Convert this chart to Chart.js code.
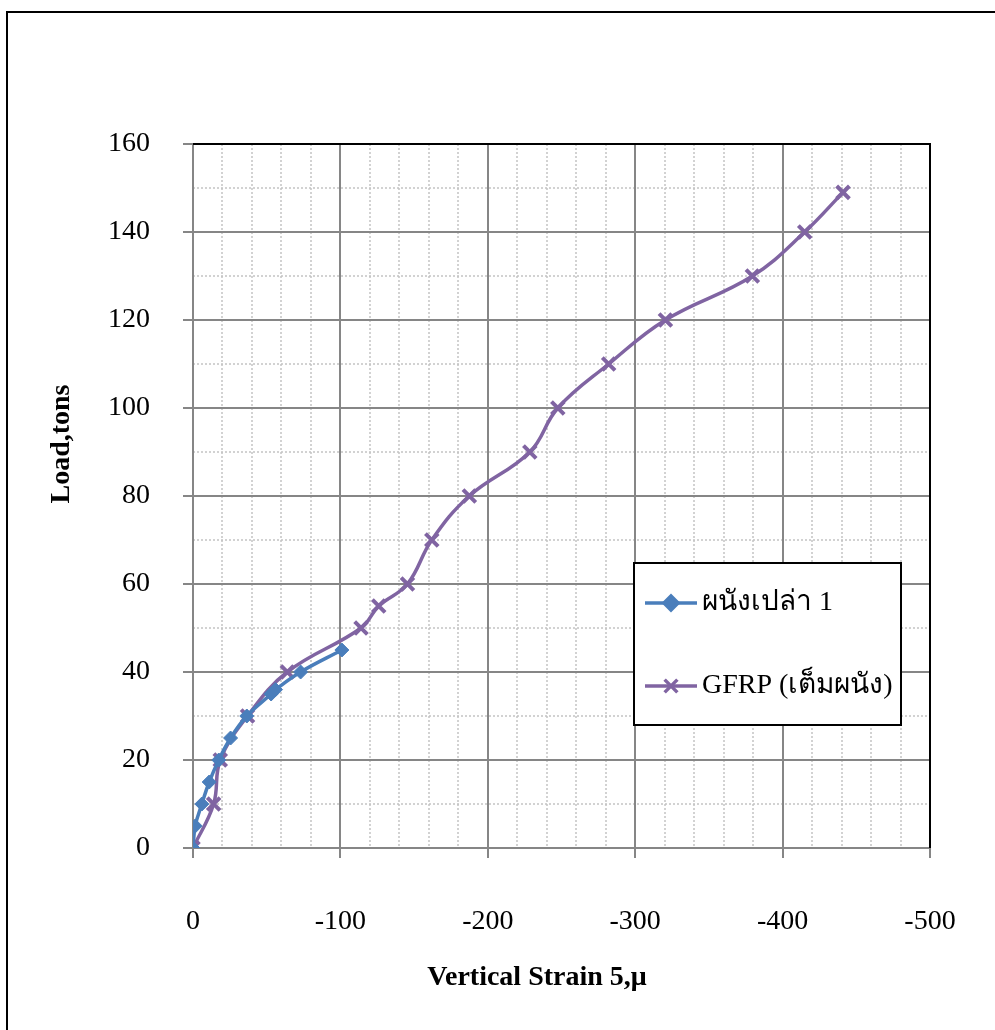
<!DOCTYPE html>
<html>
<head>
<meta charset="utf-8">
<script src="https://cdn.jsdelivr.net/npm/chart.js@4.4.1/dist/chart.umd.min.js"></script>
<style>
  html, body { margin: 0; padding: 0; background: #fff; }
  canvas { display: block; }
</style>
</head>
<body>
<canvas id="myChart" width="995" height="1030"></canvas>
<script>

// ผนังเปล่า 1
const wallStrain = [0, -1.5, -6, -11, -17.5, -25.5, -36.5, -53, -56, -73, -101]
const wallLoad = [0, 5, 10, 15, 20, 25, 30, 35, 36, 40, 45]

// GFRP (เต็มผนัง)
const gfrpStrain = [0, -14, -18.5, -37, -64, -114, -126, -145.5, -162, -187.5, -228.5, -247.5, -282, -320.5, -379.5, -415, -441]
const gfrpLoad = [0, 10, 20, 30, 40, 50, 55, 60, 70, 80, 90, 100, 110, 120, 130, 140, 149]

const seriesNames = ['ผนังเปล่า 1', 'GFRP (เต็มผนัง)']
const xTicks = [0, -100, -200, -300, -400, -500]
const yTicks = [0, 20, 40, 60, 80, 100, 120, 140, 160]

const xTitle = 'Vertical Strain 5,μ'
const yTitle = 'Load,tons'

const blueColor = '#4a7ebb'
const purpleColor = '#8064a2'
const gridColor = '#868686'
const serif = '"Liberation Serif", "Times New Roman", serif'

const toPoints = (xs, ys) => xs.map((x, i) => ({ x: x, y: ys[i] }))

// minor dotted grid + frame + titles + legend
const decorations = {
    id: 'decorations',
    beforeDraw(chart) {
        const { ctx, chartArea: a, scales } = chart
        ctx.save()
        ctx.strokeStyle = '#c4c4c4'
        ctx.lineWidth = 1.5
        ctx.setLineDash([2, 2])
        for (let v = -20; v > -500; v -= 20) {
            if (v % 100 === 0) continue
            const px = Math.round(scales.x.getPixelForValue(v))
            ctx.beginPath(); ctx.moveTo(px, a.top); ctx.lineTo(px, a.bottom); ctx.stroke()
        }
        for (let v = 10; v < 160; v += 20) {
            const py = Math.round(scales.y.getPixelForValue(v))
            ctx.beginPath(); ctx.moveTo(a.left, py); ctx.lineTo(a.right, py); ctx.stroke()
        }
        ctx.restore()
    },
    afterDraw(chart) {
        const { ctx, chartArea: a } = chart
        ctx.save()
        // outer chart border
        ctx.strokeStyle = '#000'
        ctx.lineWidth = 2
        ctx.strokeRect(7, 12, 1200, 1200)
        // plot area top / right
        ctx.beginPath()
        ctx.moveTo(a.left, a.top); ctx.lineTo(a.right, a.top); ctx.lineTo(a.right, a.bottom)
        ctx.stroke()

        // axis titles
        ctx.fillStyle = '#000'
        ctx.font = 'bold 28px ' + serif
        ctx.textAlign = 'center'
        ctx.textBaseline = 'middle'
        ctx.fillText(xTitle, 537, 978)
        ctx.save()
        ctx.translate(62, 444)
        ctx.rotate(-Math.PI / 2)
        ctx.fillText(yTitle, 0, 0)
        ctx.restore()

        // legend
        ctx.fillStyle = '#fff'
        ctx.fillRect(634, 563, 267, 162)
        ctx.strokeStyle = '#000'
        ctx.lineWidth = 2
        ctx.strokeRect(634, 563, 267, 162)
        const rows = [603, 686]
        chart.data.datasets.forEach((ds, i) => {
            const y = rows[i]
            ctx.strokeStyle = ds.borderColor
            ctx.fillStyle = ds.pointBackgroundColor
            ctx.lineWidth = ds.borderWidth
            ctx.beginPath(); ctx.moveTo(645, y); ctx.lineTo(697, y); ctx.stroke()
            Chart.helpers.drawPoint(ctx, {
                pointStyle: ds.pointStyle, radius: ds.pointRadius,
                rotation: 0, borderWidth: ds.pointBorderWidth
            }, 671, y)
            ctx.fillStyle = '#000'
            ctx.font = '28px ' + serif
            ctx.textAlign = 'left'
            ctx.fillText(ds.label, 702, y)
        })
        ctx.restore()
    }
}

const ctx = document.getElementById('myChart')

new Chart(ctx, {
    type: 'scatter',
    data: {
        datasets: [{
            label: seriesNames[0],
            data: toPoints(wallStrain, wallLoad),
            showLine: true,
            tension: 0.4,
            borderColor: blueColor,
            borderWidth: 3.5,
            pointStyle: 'rectRot',
            pointRadius: 7,
            pointBackgroundColor: blueColor,
            pointBorderColor: blueColor,
            pointBorderWidth: 1
        }, {
            label: seriesNames[1],
            data: toPoints(gfrpStrain, gfrpLoad),
            showLine: true,
            tension: 0.4,
            borderColor: purpleColor,
            borderWidth: 3.5,
            pointStyle: 'crossRot',
            pointRadius: 9,
            pointBackgroundColor: purpleColor,
            pointBorderColor: purpleColor,
            pointBorderWidth: 4
        }]
    },
    options: {
        responsive: false,
        animation: false,
        devicePixelRatio: 1,
        layout: { padding: { top: 144, right: 65, left: 0, bottom: 0 } },
        plugins: {
            legend: { display: false },
            tooltip: { enabled: false }
        },
        scales: {
            x: {
                type: 'linear',
                min: -500,
                max: 0,
                reverse: true,
                afterBuildTicks: s => { s.ticks = xTicks.map(v => ({ value: v })) },
                afterFit: s => { s.height = 182; s.paddingLeft = 0; s.paddingRight = 0 },
                ticks: {
                    color: '#000',
                    font: { family: serif, size: 28 },
                    padding: 47,
                    maxRotation: 0,
                    autoSkip: false
                },
                grid: { color: gridColor, lineWidth: 2, tickLength: 10, tickColor: gridColor, tickWidth: 2 },
                border: { color: gridColor, width: 2 }
            },
            y: {
                type: 'linear',
                min: 0,
                max: 160,
                afterBuildTicks: s => { s.ticks = yTicks.map(v => ({ value: v })) },
                afterFit: s => { s.width = 193; s.paddingTop = 0; s.paddingBottom = 0 },
                ticks: {
                    color: '#000',
                    font: { family: serif, size: 28 },
                    padding: 33,
                    autoSkip: false
                },
                grid: { color: gridColor, lineWidth: 2, tickLength: 10, tickColor: gridColor, tickWidth: 2 },
                border: { color: gridColor, width: 2 }
            }
        }
    },
    plugins: [decorations]
});

</script>
</body>
</html>
